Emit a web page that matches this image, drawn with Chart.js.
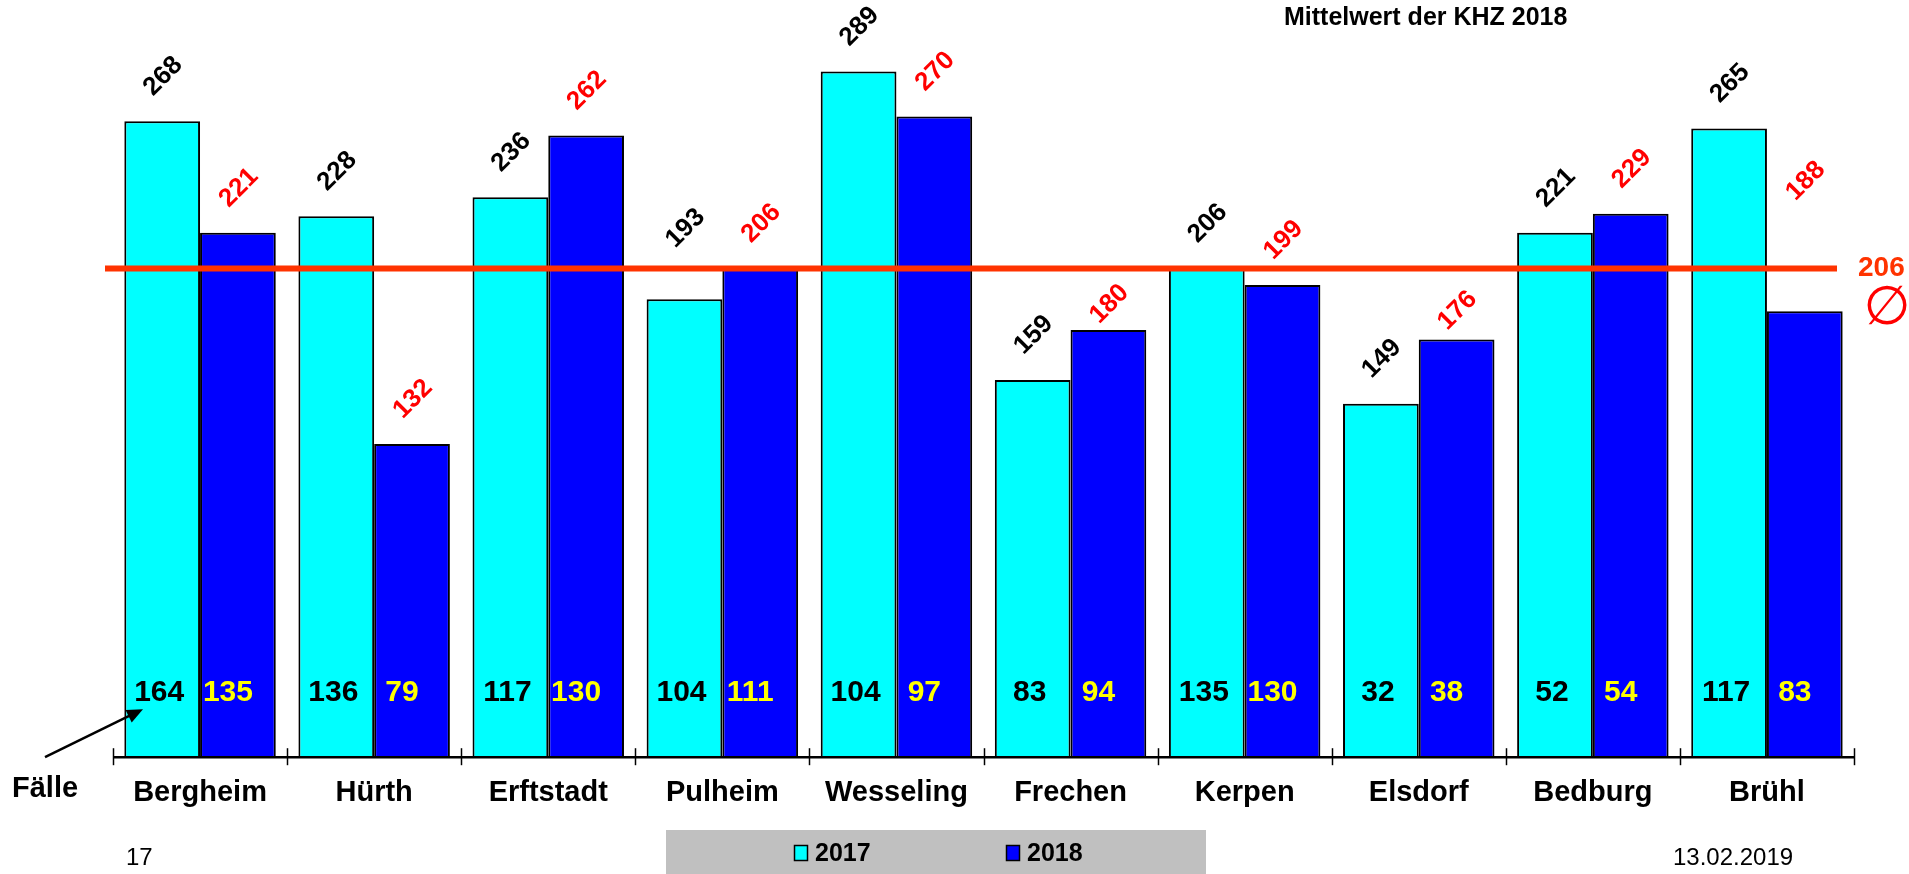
<!DOCTYPE html>
<html><head><meta charset="utf-8">
<script src="https://cdn.jsdelivr.net/npm/chart.js@4"></script>
<style>html,body{margin:0;padding:0;background:#fff;overflow:hidden}#wrap{width:1909px;height:874px;position:relative}</style>
</head><body><div id="wrap"><canvas id="c" width="1909" height="874"></canvas></div>
<script>
const categories = ['Bergheim','Hürth','Erftstadt','Pulheim','Wesseling','Frechen','Kerpen','Elsdorf','Bedburg','Brühl'];
const seriesNames = ['2017','2018'];
const khz2017 = [268,228,236,193,289,159,206,149,221,265];
const khz2018 = [221,132,262,206,270,180,199,176,229,188];
const faelle2017 = [164,136,117,104,104,83,135,32,52,117];
const faelle2018 = [135,79,130,111,97,94,130,38,54,83];
const meanKHZ2018 = 206;
const titleText = 'Mittelwert der KHZ 2018';
const casesLabel = 'Fälle';
const pageNumber = '17';
const dateText = '13.02.2019';

// styling: distance (px) of rotated value labels above the bar top; labels moved by hand around the mean line
const labelLiftDefault = 45;
const labelLiftOverride = [ { 'Pulheim': 71 }, { 'Frechen': 26, 'Elsdorf': 29, 'Brühl': 130 } ];

const FONT = '"Liberation Sans", Arial, sans-serif';
const seriesColors = ['#00FFFF','#0000FF'];
const topColors = ['#000000','#FF0000'];
const bottomColors = ['#000000','#FFFF00'];
const caseSeries = [faelle2017, faelle2018];

const deco = {
  id: 'deco',
  afterDatasetsDraw(chart) {
    const ctx = chart.ctx, y = chart.scales.y, ca = chart.chartArea;
    ctx.save();
    ctx.strokeStyle = '#000'; ctx.lineWidth = 2.5;
    ctx.beginPath(); ctx.moveTo(ca.left, ca.bottom); ctx.lineTo(ca.right, ca.bottom); ctx.stroke();
    const n = categories.length, w = (ca.right - ca.left) / n;
    ctx.lineWidth = 1.5;
    for (let i = 0; i <= n; i++) {
      const px = Math.round(ca.left + i * w) + 0.5;
      ctx.beginPath(); ctx.moveTo(px, ca.bottom - 9); ctx.lineTo(px, ca.bottom + 8); ctx.stroke();
    }
    const my = y.getPixelForValue(meanKHZ2018);
    ctx.strokeStyle = '#FF3300'; ctx.lineWidth = 6;
    ctx.beginPath(); ctx.moveTo(ca.left - 8, my); ctx.lineTo(ca.right - 17, my); ctx.stroke();
    ctx.fillStyle = '#FF3300'; ctx.font = 'bold 28px ' + FONT;
    ctx.textAlign = 'left'; ctx.textBaseline = 'middle';
    ctx.fillText(String(meanKHZ2018), ca.right + 4, my);
    ctx.fillStyle = '#FF0000'; ctx.font = '54px "DejaVu Sans", sans-serif';
    ctx.textAlign = 'center';
    ctx.fillText('\u2205', ca.right + 33, my + 42);

    chart.data.datasets.forEach((ds, di) => {
      const meta = chart.getDatasetMeta(di);
      meta.data.forEach((el, i) => {
        const ov = labelLiftOverride[di][categories[i]];
        const lift = ov !== undefined ? ov : labelLiftDefault;
        ctx.save();
        ctx.translate(el.x + 1, el.y - lift);
        ctx.rotate(-Math.PI / 4);
        ctx.fillStyle = topColors[di];
        ctx.font = 'bold 26px ' + FONT;
        ctx.textAlign = 'center'; ctx.textBaseline = 'middle';
        ctx.fillText(String(ds.data[i]), 0, 0);
        ctx.restore();
        ctx.fillStyle = bottomColors[di];
        ctx.font = 'bold 30px ' + FONT;
        ctx.textAlign = 'center'; ctx.textBaseline = 'middle';
        ctx.fillText(String(caseSeries[di][i]), el.x + (di === 0 ? -3 : -10), ca.bottom - 64);
      });
    });
    ctx.restore();
  },
  afterDraw(chart) {
    const ctx = chart.ctx, ca = chart.chartArea;
    ctx.save();
    ctx.fillStyle = '#000'; ctx.font = 'bold 25px ' + FONT;
    ctx.textAlign = 'left'; ctx.textBaseline = 'middle';
    ctx.fillText(titleText, 1284, 18);
    ctx.font = 'bold 29px ' + FONT;
    ctx.fillText(casesLabel, 12, ca.bottom + 32);
    const x0 = 45, y0 = ca.bottom, x1 = 143, y1 = ca.bottom - 48;
    const ang = Math.atan2(y1 - y0, x1 - x0);
    ctx.strokeStyle = '#000'; ctx.lineWidth = 2.5;
    ctx.beginPath(); ctx.moveTo(x0, y0); ctx.lineTo(x1 - 12 * Math.cos(ang), y1 - 12 * Math.sin(ang)); ctx.stroke();
    ctx.fillStyle = '#000';
    ctx.beginPath();
    ctx.moveTo(x1, y1);
    ctx.lineTo(x1 - 16 * Math.cos(ang) + 7 * Math.sin(ang), y1 - 16 * Math.sin(ang) - 7 * Math.cos(ang));
    ctx.lineTo(x1 - 16 * Math.cos(ang) - 7 * Math.sin(ang), y1 - 16 * Math.sin(ang) + 7 * Math.cos(ang));
    ctx.closePath(); ctx.fill();
    ctx.font = '24px ' + FONT;
    ctx.fillText(pageNumber, 126, 858);
    ctx.fillText(dateText, 1673, 858);
    ctx.fillStyle = '#C0C0C0';
    ctx.fillRect(666, 830, 540, 44);
    const lx = [794, 1006];
    chart.data.datasets.forEach((ds, di) => {
      ctx.fillStyle = ds.backgroundColor;
      ctx.fillRect(lx[di], 845, 13, 15);
      ctx.strokeStyle = '#000'; ctx.lineWidth = 1.5;
      ctx.strokeRect(lx[di] + 0.5, 845.5, 13, 15);
      ctx.fillStyle = '#000'; ctx.font = 'bold 25px ' + FONT;
      ctx.textAlign = 'left'; ctx.textBaseline = 'middle';
      ctx.fillText(ds.label, lx[di] + 21, 854);
    });
    ctx.restore();
  }
};

new Chart(document.getElementById('c'), {
  type: 'bar',
  data: {
    labels: categories,
    datasets: [
      { label: seriesNames[0], data: khz2017, backgroundColor: seriesColors[0], borderColor: '#000', borderWidth: 2 },
      { label: seriesNames[1], data: khz2018, backgroundColor: seriesColors[1], borderColor: '#000', borderWidth: 2 }
    ]
  },
  options: {
    responsive: false,
    animation: false,
    datasets: { bar: { barPercentage: 1.0, categoryPercentage: 0.87 } },
    layout: { padding: { left: 113, right: 55, top: 45.4, bottom: 46 } },
    plugins: { legend: { display: false }, tooltip: { enabled: false }, title: { display: false } },
    scales: {
      x: {
        grid: { display: false, drawTicks: false },
        border: { display: false },
        ticks: { color: '#000', font: { family: FONT, size: 29, weight: 'bold' }, padding: 18, maxRotation: 0, autoSkip: false }
      },
      y: { display: false, min: 0, max: 300 }
    }
  },
  plugins: [deco]
});
</script>
</body></html>
